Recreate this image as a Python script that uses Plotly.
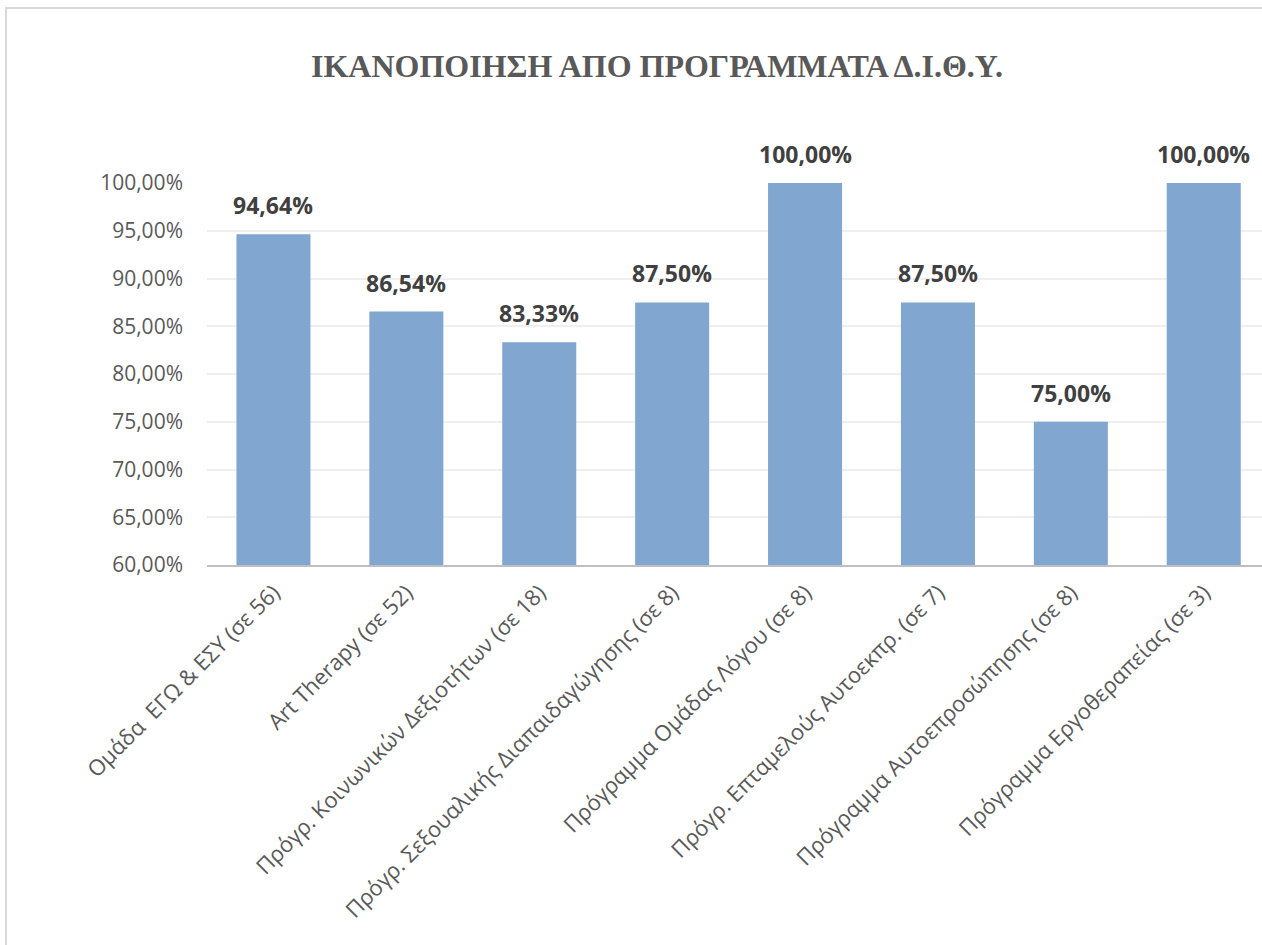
import plotly.graph_objects as go

categories = [
    "Ομάδα  ΕΓΩ & ΕΣΥ (σε 56)",
    "Art Therapy (σε 52)",
    "Πρόγρ. Κοινωνικών Δεξιοτήτων (σε 18)",
    "Πρόγρ. Σεξουαλικής Διαπαιδαγώγησης (σε 8)",
    "Πρόγραμμα Ομάδας Λόγου (σε 8)",
    "Πρόγρ. Επταμελούς Αυτοεκπρ. (σε 7)",
    "Πρόγραμμα Αυτοεπροσώπησης (σε 8)",
    "Πρόγραμμα Εργοθεραπείας (σε 3)",
]
values = [94.64, 86.54, 83.33, 87.50, 100.00, 87.50, 75.00, 100.00]
y_ticks = [60, 65, 70, 75, 80, 85, 90, 95, 100]
title_text = "ΙΚΑΝΟΠΟΙΗΣΗ ΑΠΟ ΠΡΟΓΡΑΜΜΑΤΑ Δ.Ι.Θ.Υ."


def pct(v):
    return f"{v:.2f}".replace(".", ",") + "%"


W, H = 1262, 945
L, T = 207, 183
B = H - 565
R = 0

fig = go.Figure()
fig.add_trace(go.Bar(
    x=categories, y=values,
    marker=dict(color="#81A6D0", line=dict(width=0)),
    width=0.557,
))

for c, v in zip(categories, values):
    fig.add_annotation(
        x=c, y=v, text="<b>" + pct(v) + "</b>", showarrow=False,
        yanchor="bottom", yshift=11,
        font=dict(family="Open Sans", size=23, color="#404040"),
    )

pw = W - L - R
ph = H - T - B
fig.add_shape(
    type="rect", xref="paper", yref="paper",
    x0=(6 - L) / pw, x1=(1400 - L) / pw,
    y0=(H - B - 1000) / ph, y1=(H - B - 8) / ph,
    line=dict(color="#D9D9D9", width=2), fillcolor="rgba(0,0,0,0)",
    layer="below",
)

fig.update_layout(
    width=W, height=H,
    margin=dict(l=L, r=R, t=T, b=B, autoexpand=False),
    paper_bgcolor="white", plot_bgcolor="white",
    showlegend=False,
    title=dict(
        text="<b>" + title_text + "</b>", x=657 / W, xanchor="center",
        y=1 - 66 / H, yanchor="middle",
        font=dict(family="Liberation Serif", size=32, color="#595959"),
    ),
    xaxis=dict(
        range=[-0.5, -0.5 + pw / 132.9],
        tickangle=-45, showgrid=False, ticks="",
        showline=True, linecolor="#BFBFBF", linewidth=2,
        tickfont=dict(family="Open Sans", size=22, color="#595959"),
        ticklabelstandoff=4,
        fixedrange=True,
    ),
    yaxis=dict(
        range=[60, 100], tickvals=y_ticks,
        ticktext=[pct(v) for v in y_ticks],
        showgrid=True, gridcolor="#EFEFEF", gridwidth=1.5,
        zeroline=False, showline=False, ticks="",
        tickfont=dict(family="Open Sans", size=21, color="#595959"),
        ticklabelstandoff=23,
    ),
)

fig.write_html(
    "out.html",
    config={"displayModeBar": False},
    post_script="document.body.style.margin='0px';document.body.style.overflow='hidden';",
)
